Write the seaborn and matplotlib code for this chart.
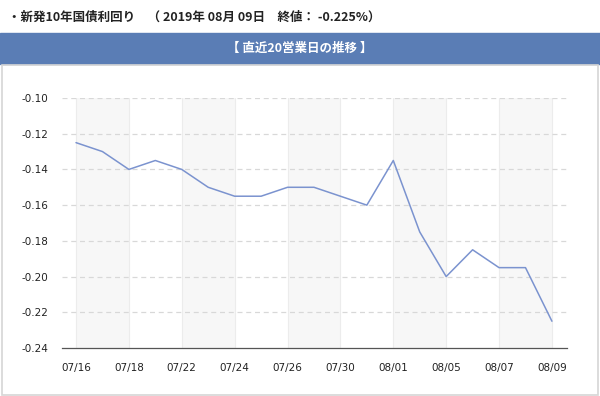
import matplotlib
matplotlib.use("Agg")
import matplotlib.pyplot as plt
import matplotlib.patches as mpatches
import seaborn as sns
import pandas as pd

dates = ["07/16", "07/17", "07/18", "07/19", "07/22", "07/23", "07/24", "07/25", "07/26", "07/29",
         "07/30", "07/31", "08/01", "08/02", "08/05", "08/06", "08/07", "08/08", "08/09"]
yields = [-0.125, -0.130, -0.140, -0.135, -0.140, -0.150, -0.155, -0.155, -0.150, -0.150,
          -0.155, -0.160, -0.135, -0.175, -0.200, -0.185, -0.195, -0.195, -0.225]
yticks = [-0.10, -0.12, -0.14, -0.16, -0.18, -0.20, -0.22, -0.24]

df = pd.DataFrame({"idx": range(len(dates)), "date": dates, "yield": yields})

sns.set_style("white")
plt.rcParams['font.family'] = ['DejaVu Sans', 'Noto Sans CJK JP']
jp = ['Noto Sans CJK JP', 'DejaVu Sans']

W, H = 600, 396
fig = plt.figure(figsize=(6, 3.96), dpi=100)

# title + header band
fig.text(8 / W, 1 - 17 / H, "・新発10年国債利回り　（ 2019年 08月 09日　終値： -0.225%）",
         family=jp, fontsize=9, fontweight="bold", color="#222222", va="center", ha="left")
fig.patches.append(mpatches.Rectangle((0, 1 - 64 / H), 1, 31 / H, transform=fig.transFigure,
                                      color="#5a7db5", zorder=0))
fig.text(0.5, 1 - 48 / H, "【 直近20営業日の推移 】", family=jp, fontsize=9, fontweight="bold",
         color="white", ha="center", va="center")
fig.patches.append(mpatches.Rectangle((1.5 / W, 1.5 / H), 596 / W, (H - 66) / H, transform=fig.transFigure,
                                      fill=False, edgecolor="#d6d6d6", linewidth=1.2, zorder=0))

ax = fig.add_axes([62 / W, 1 - 348 / H, 505 / W, 250 / H])
x0 = -0.53
x1 = 18.57

# alternating bands
for i in range(0, len(dates) - 1, 4):
    ax.axvspan(i, i + 2, color="#f7f7f7", zorder=0, lw=0)
for i in range(0, len(dates), 2):
    ax.axvline(i, color="#ececec", lw=0.8, zorder=0.5)
for y in yticks[:-1]:
    ax.axhline(y, color="#d8d8d8", lw=0.9, ls=(0, (4, 3)), zorder=0.6)

sns.lineplot(data=df, x="idx", y="yield", ax=ax, color="#7b93cf", lw=1.1, zorder=3)

ax.set_xlim(x0, x1)
ax.set_ylim(-0.24, -0.10)
ax.set_yticks(yticks)
ax.set_yticklabels([f"{v:.2f}" for v in yticks])
ax.set_xticks(df["idx"][::2])
ax.set_xticklabels(df["date"][::2])
ax.tick_params(axis="y", length=0, pad=10, labelsize=7.5, labelcolor="#222222")
ax.tick_params(axis="x", length=5, width=0.8, color="#555555", pad=6, labelsize=7.5, labelcolor="#222222")
ax.set_xlabel("")
ax.set_ylabel("")
for s in ["top", "right", "left"]:
    ax.spines[s].set_visible(False)
ax.spines["bottom"].set_color("#555555")
ax.spines["bottom"].set_linewidth(0.9)
ax.grid(False)

fig.savefig("out.png", dpi=100)
